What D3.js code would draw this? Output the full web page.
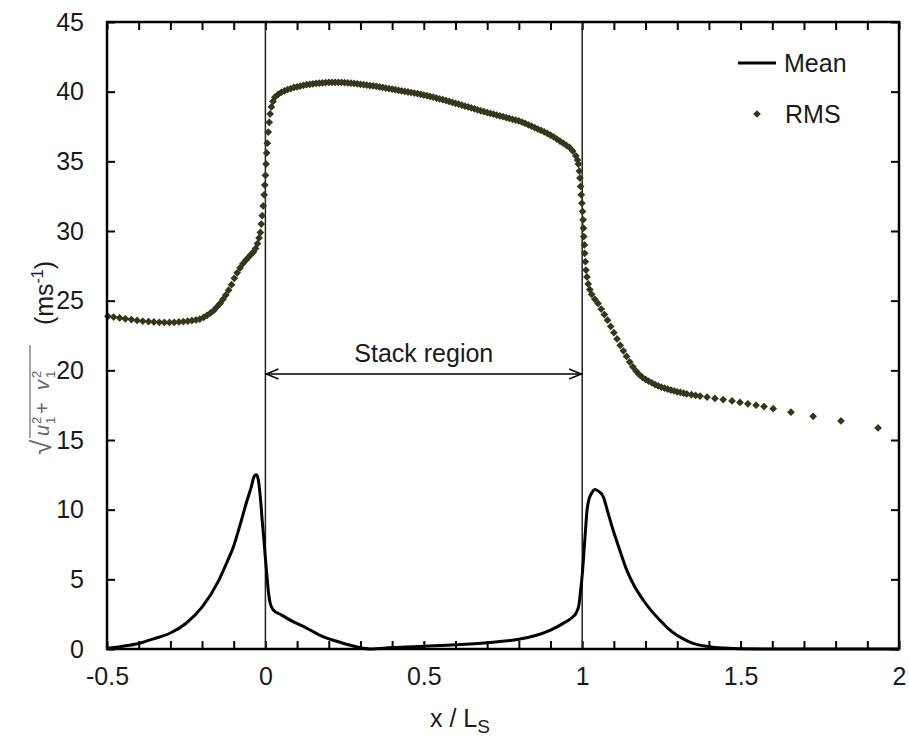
<!DOCTYPE html>
<html>
<head>
<meta charset="utf-8">
<script src="https://cdn.jsdelivr.net/npm/d3@7"></script>
<style>
  body { margin: 0; background: #fff; }
  text { font-family: "Liberation Sans", Arial, sans-serif; }
</style>
</head>
<body>
<svg id="chart" width="910" height="742"></svg>
<script>
// mean velocity magnitude along x / Ls
const meanX = [-0.5, -0.45, -0.4, -0.35, -0.3, -0.25, -0.2, -0.15, -0.12, -0.1, -0.08, -0.06, -0.045, -0.035, -0.028,
  -0.022, -0.016, -0.01, -0.005, 0, 0.005, 0.01, 0.015, 0.025, 0.05, 0.08, 0.13, 0.18, 0.24, 0.29, 0.33,
  0.4, 0.5, 0.6, 0.7, 0.8, 0.85, 0.9, 0.94, 0.97, 0.98, 0.99, 0.995, 1.0, 1.005, 1.01, 1.015, 1.022, 1.03,
  1.04, 1.05, 1.067, 1.08, 1.098, 1.12, 1.14, 1.165, 1.193, 1.22, 1.246, 1.27, 1.298, 1.325, 1.35, 1.4,
  1.45, 1.5, 1.6, 1.8, 2.0];
const meanY = [0.05, 0.2, 0.4, 0.75, 1.15, 1.85, 3.0, 4.8, 6.3, 7.4, 8.9, 10.5, 11.6, 12.4, 12.5,
  12.1, 10.9, 9.2, 7.9, 6.5, 5.2, 4.0, 3.3, 2.8, 2.45, 2.05, 1.5, 0.9, 0.45, 0.15, 0.0,
  0.1, 0.2, 0.3, 0.45, 0.7, 0.95, 1.36, 1.84, 2.3, 2.55, 3.2, 4.2, 5.3, 6.8, 8.4, 9.9, 10.8, 11.2,
  11.45, 11.35, 10.9, 9.9, 8.5, 7.0, 5.7, 4.5, 3.5, 2.7, 2.05, 1.5, 1.0, 0.65, 0.4, 0.17,
  0.07, 0.02, 0, 0, 0];

// RMS samples
const rmsX = [-0.497, -0.479, -0.46, -0.442, -0.423, -0.405, -0.387, -0.369, -0.352, -0.335, -0.319, -0.303,
  -0.288, -0.273, -0.259, -0.245, -0.232, -0.219, -0.207, -0.195, -0.184, -0.173, -0.163, -0.153, -0.143,
  -0.134, -0.125, -0.116, -0.107, -0.098, -0.089, -0.08, -0.071, -0.062, -0.054, -0.046, -0.038, -0.031,
  -0.025, -0.02, -0.016, -0.013, -0.01, -0.007, -0.004, -0.002, 0, 0.002, 0.004, 0.006, 0.009, 0.012,
  0.015, 0.019, 0.024,
  0.03, 0.04, 0.05, 0.06, 0.07, 0.08, 0.09, 0.10, 0.11, 0.12, 0.13, 0.14, 0.15, 0.16, 0.17, 0.18, 0.19,
  0.20, 0.21, 0.22, 0.23, 0.24, 0.25, 0.26, 0.27, 0.28, 0.29, 0.30, 0.31, 0.32, 0.33, 0.34, 0.35, 0.36,
  0.37, 0.38, 0.39, 0.40, 0.41, 0.42, 0.43, 0.44, 0.45, 0.46, 0.47, 0.48, 0.49, 0.50, 0.51, 0.52, 0.53,
  0.54, 0.55, 0.56, 0.57, 0.58, 0.59, 0.60, 0.61, 0.62, 0.63, 0.64, 0.65, 0.66, 0.67, 0.68, 0.69, 0.70,
  0.71, 0.72, 0.73, 0.74, 0.75, 0.76, 0.77, 0.78, 0.79, 0.80, 0.81, 0.82, 0.83, 0.84, 0.85, 0.86, 0.87,
  0.88, 0.89, 0.90, 0.91, 0.92, 0.93, 0.94, 0.95, 0.96, 0.97, 0.98, 0.985,
  0.988, 0.991, 0.993, 0.995, 0.997, 0.999, 1.001, 1.003, 1.004, 1.005, 1.007, 1.008, 1.01, 1.012, 1.015,
  1.019, 1.024,
  1.03, 1.04, 1.05, 1.06, 1.07, 1.08, 1.09, 1.10, 1.11, 1.12, 1.13, 1.14, 1.15, 1.16, 1.17, 1.18, 1.19,
  1.20, 1.21, 1.22, 1.23, 1.24, 1.25, 1.26, 1.27, 1.28, 1.29, 1.30, 1.31, 1.32, 1.33, 1.345, 1.358,
  1.372, 1.394, 1.419, 1.445, 1.473, 1.498, 1.523, 1.549, 1.574, 1.603, 1.659, 1.729, 1.817, 1.934];
const rmsY = [23.88, 23.82, 23.76, 23.7, 23.64, 23.58, 23.53, 23.5, 23.47, 23.45, 23.44, 23.44,
  23.45, 23.47, 23.5, 23.53, 23.57, 23.62, 23.68, 23.8, 23.95, 24.12, 24.3, 24.55, 24.8,
  25.1, 25.4, 25.75, 26.15, 26.6, 27.0, 27.35, 27.65, 27.9, 28.1, 28.3, 28.5, 28.75,
  29.1, 29.5, 29.9, 30.5, 31.1, 31.8, 32.6, 33.3, 34.0, 34.8, 35.6, 36.3, 37.1, 37.8,
  38.4, 38.9, 39.3,
  39.6, 39.8, 39.95, 40.05, 40.15, 40.22, 40.3, 40.35, 40.4, 40.45, 40.5, 40.53, 40.56, 40.59, 40.61, 40.63, 40.65,
  40.66, 40.67, 40.67, 40.67, 40.66, 40.65, 40.63, 40.61, 40.59, 40.56, 40.53, 40.5, 40.47, 40.44, 40.41, 40.38, 40.34,
  40.3, 40.26, 40.22, 40.18, 40.14, 40.1, 40.06, 40.02, 39.98, 39.94, 39.9, 39.86, 39.81, 39.76, 39.71, 39.66, 39.6,
  39.54, 39.48, 39.42, 39.36, 39.3, 39.23, 39.16, 39.1, 39.03, 38.96, 38.9, 38.83, 38.77, 38.7, 38.63, 38.56, 38.5,
  38.44, 38.38, 38.32, 38.26, 38.2, 38.14, 38.08, 38.02, 37.96, 37.9, 37.82, 37.72, 37.62, 37.52, 37.42, 37.32, 37.22,
  37.12, 37.0, 36.88, 36.75, 36.6, 36.45, 36.3, 36.15, 36.0, 35.75, 35.4, 35.1,
  34.8, 34.3, 33.8, 33.2, 32.6, 32.0, 31.4, 30.8, 30.2, 29.6, 29.0, 28.4, 27.8, 27.2, 26.7,
  26.2, 25.8,
  25.45, 25.1, 24.8, 24.4, 24.0, 23.6, 23.15, 22.7, 22.25, 21.8, 21.4, 21.0, 20.6, 20.25, 19.95, 19.7, 19.5,
  19.35, 19.22, 19.1, 18.98, 18.88, 18.79, 18.72, 18.65, 18.58, 18.52, 18.46, 18.41, 18.36, 18.31, 18.25, 18.2,
  18.15, 18.08, 17.98, 17.9, 17.8, 17.7, 17.6, 17.5, 17.4, 17.25, 17.0, 16.7, 16.37, 15.87];

const xLabelTicks = [-0.5, 0, 0.5, 1, 1.5, 2];
const yTicks = [0, 5, 10, 15, 20, 25, 30, 35, 40, 45];
const stackBounds = [0, 1];
const stackArrowY = 19.74;

const svg = d3.select('#chart');
const x = d3.scaleLinear().domain([-0.5, 2]).range([107, 899]);
const y = d3.scaleLinear().domain([0, 45]).range([649, 22]);

const xMinor = d3.range(-5, 21).map(i => i / 10);
const fmt = d => {
  const hit = xLabelTicks.find(t => Math.abs(t - d) < 1e-9);
  return hit === undefined ? '' : String(hit);
};

function styleAxis(g) {
  g.select('.domain').remove();
  g.selectAll('.tick line').attr('stroke', '#000').attr('stroke-width', 2);
  g.selectAll('.tick text').attr('fill', '#1a1a1a').style('font-size', '25px')
    .style('font-family', '"Liberation Sans", Arial, sans-serif');
}

svg.append('g').attr('transform', 'translate(0,649)')
  .call(d3.axisBottom(x).tickValues(xMinor).tickSize(-8).tickPadding(18).tickFormat(fmt))
  .call(styleAxis);
svg.append('g').attr('transform', 'translate(0,22)')
  .call(d3.axisTop(x).tickValues(xMinor).tickSize(-8).tickFormat(''))
  .call(styleAxis);
svg.append('g').attr('transform', 'translate(107,0)')
  .call(d3.axisLeft(y).tickValues(yTicks).tickSize(-8).tickPadding(23))
  .call(styleAxis);
svg.append('g').attr('transform', 'translate(899,0)')
  .call(d3.axisRight(y).tickValues(yTicks).tickSize(-8).tickFormat(''))
  .call(styleAxis);

// stack edges
svg.append('g').selectAll('line').data(stackBounds).join('line')
  .attr('x1', d => x(d)).attr('x2', d => x(d))
  .attr('y1', y(45)).attr('y2', y(0))
  .attr('stroke', '#222').attr('stroke-width', 1.5);

// RMS dots
const rmsData = rmsX.map((d, i) => [d, rmsY[i]]);
const dot = d3.symbol().type(d3.symbolSquare).size(30);
svg.append('g').selectAll('path').data(rmsData).join('path')
  .attr('d', dot)
  .attr('transform', d => `translate(${x(d[0])},${y(d[1])}) rotate(45)`)
  .attr('fill', '#36361a');

// mean line
const meanData = meanX.map((d, i) => [d, meanY[i]]);
svg.append('path').datum(meanData)
  .attr('fill', 'none').attr('stroke', '#000').attr('stroke-width', 3)
  .attr('stroke-linejoin', 'round')
  .attr('d', d3.line().x(d => x(d[0])).y(d => y(d[1])).curve(d3.curveMonotoneX));

// frame
svg.append('rect').attr('x', 107).attr('y', 22).attr('width', 792).attr('height', 627)
  .attr('fill', 'none').attr('stroke', '#000').attr('stroke-width', 2.5);

// stack region arrow
const ay = y(stackArrowY);
const ax0 = x(stackBounds[0]), ax1 = x(stackBounds[1]);
svg.append('line').attr('x1', ax0).attr('x2', ax1).attr('y1', ay).attr('y2', ay)
  .attr('stroke', '#000').attr('stroke-width', 1.5);
svg.append('path').attr('d', `M${ax0 + 13},${ay - 5}L${ax0 + 1},${ay}L${ax0 + 13},${ay + 5}`)
  .attr('fill', 'none').attr('stroke', '#000').attr('stroke-width', 1.5);
svg.append('path').attr('d', `M${ax1 - 13},${ay - 5}L${ax1 - 1},${ay}L${ax1 - 13},${ay + 5}`)
  .attr('fill', 'none').attr('stroke', '#000').attr('stroke-width', 1.5);
svg.append('text').attr('x', (ax0 + ax1) / 2).attr('y', ay - 12)
  .attr('text-anchor', 'middle').style('font-size', '25px').attr('fill', '#1a1a1a')
  .text('Stack region');

// legend
svg.append('line').attr('x1', 738).attr('x2', 776).attr('y1', 63).attr('y2', 63)
  .attr('stroke', '#000').attr('stroke-width', 3);
svg.append('text').attr('x', 784).attr('y', 72).style('font-size', '25px').attr('fill', '#1a1a1a').text('Mean');
svg.append('path').attr('d', dot).attr('transform', 'translate(757,114) rotate(45)').attr('fill', '#36361a');
svg.append('text').attr('x', 785).attr('y', 123).style('font-size', '25px').attr('fill', '#1a1a1a').text('RMS');

// x axis title
const xt = svg.append('text').attr('x', 460).attr('y', 727).attr('text-anchor', 'middle')
  .style('font-size', '25px').attr('fill', '#1a1a1a');
xt.append('tspan').text('x / L');
xt.append('tspan').attr('dy', 6).style('font-size', '19px').text('S');

// y axis title
const yu = svg.append('text').attr('transform', 'translate(53,293) rotate(-90)')
  .style('font-size', '25px').attr('fill', '#1a1a1a').attr('text-anchor', 'middle');
yu.append('tspan').text('(ms');
yu.append('tspan').attr('dy', -10).style('font-size', '16px').text('-1');
yu.append('tspan').attr('dy', 10).text(')');

const ys = svg.append('g').attr('transform', 'translate(51,455) rotate(-90)')
  .attr('fill', '#666').style('font-family', '"DejaVu Serif", "Liberation Serif", serif');
ys.append('text').attr('x', 0).attr('y', 0).style('font-size', '28px').text('√');
ys.append('line').attr('x1', 17).attr('x2', 110).attr('y1', -21).attr('y2', -21)
  .attr('stroke', '#666').attr('stroke-width', 1.2);
const sq = [[19, 'u'], [65, 'v']];
sq.forEach(([px, ch]) => {
  ys.append('text').attr('x', px).attr('y', -2).style('font-size', '20px').style('font-style', 'italic').text(ch);
  ys.append('text').attr('x', px + 12).attr('y', -10).style('font-size', '13px').text('2');
  ys.append('text').attr('x', px + 12).attr('y', 4).style('font-size', '13px').text('1');
});
ys.append('text').attr('x', 41).attr('y', -2).style('font-size', '20px').text('+');
</script>
</body>
</html>
